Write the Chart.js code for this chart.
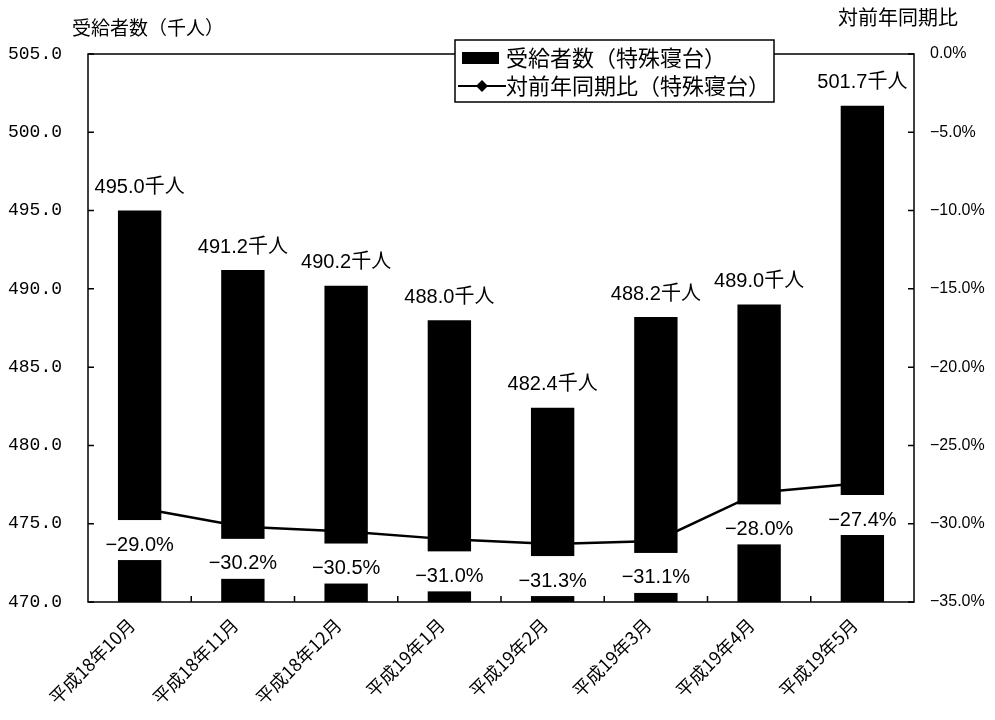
<!DOCTYPE html>
<html lang="ja">
<head>
<meta charset="utf-8">
<script src="https://cdn.jsdelivr.net/npm/chart.js@4.4.1/dist/chart.umd.min.js"></script>
<style>
  html, body { margin: 0; padding: 0; background: #fff; }
  #wrap { width: 995px; height: 720px; }
</style>
</head>
<body>
<div id="wrap"><canvas id="chart" width="995" height="720"></canvas></div>
<script>
const months = ['平成18年10月', '平成18年11月', '平成18年12月', '平成19年1月', '平成19年2月', '平成19年3月', '平成19年4月', '平成19年5月'];
const recipients = [495.0, 491.2, 490.2, 488.0, 482.4, 488.2, 489.0, 501.7];
const yoyRates = [-29.0, -30.2, -30.5, -31.0, -31.3, -31.1, -28.0, -27.4];
const leftTicks = [470, 475, 480, 485, 490, 495, 500, 505];
const rightTicks = [-35, -30, -25, -20, -15, -10, -5, 0];

const barName = '受給者数（特殊寝台）';
const lineName = '対前年同期比（特殊寝台）';
const leftTitle = '受給者数（千人）';
const rightTitle = '対前年同期比';

const jpFont = '"Noto Sans CJK JP", sans-serif';
const numFont = '"Liberation Sans", "Noto Sans CJK JP", sans-serif';

function fmtPct(v) {
    return v.toFixed(1).replace('-', '\u2212') + '%';
}

// white boxes with rate labels cutting through the bars
function drawRateLabels(chart) {
    const ctx = chart.ctx;
    const bars = chart.getDatasetMeta(0).data;
    const y1 = chart.scales.y1;
    ctx.save();
    ctx.font = '20px ' + numFont;
    ctx.textAlign = 'center';
    ctx.textBaseline = 'middle';
    yoyRates.forEach((r, i) => {
        const x = bars[i].x;
        const py = y1.getPixelForValue(r);
        const txt = fmtPct(r);
        const w = Math.max(ctx.measureText(txt).width, bars[i].width) + 4;
        ctx.fillStyle = '#fff';
        ctx.fillRect(x - w / 2, py + 12, w, 40);
        ctx.fillStyle = '#000';
        ctx.fillText(txt, x, py + 37);
    });
    ctx.restore();
}

const decor = {
    id: 'decor',
    afterDatasetDraw(chart, args) {
        if (args.index === 0) drawRateLabels(chart);
    },
    afterDraw(chart) {
        const ctx = chart.ctx;
        const a = chart.chartArea;
        const x = chart.scales.x;
        const y = chart.scales.y;
        const y1 = chart.scales.y1;
        ctx.save();

        // frame and inner tick marks
        ctx.strokeStyle = '#000';
        ctx.lineWidth = 1.5;
        ctx.strokeRect(a.left, a.top, a.right - a.left, a.bottom - a.top);
        ctx.beginPath();
        leftTicks.forEach(v => {
            const py = y.getPixelForValue(v);
            ctx.moveTo(a.left, py);
            ctx.lineTo(a.left + 6, py);
        });
        rightTicks.forEach(v => {
            const py = y1.getPixelForValue(v);
            ctx.moveTo(a.right, py);
            ctx.lineTo(a.right - 6, py);
        });
        const half = (x.getPixelForValue(1) - x.getPixelForValue(0)) / 2;
        for (let i = 1; i < months.length; i++) {
            const px = x.getPixelForValue(i) - half;
            ctx.moveTo(px, a.bottom);
            ctx.lineTo(px, a.bottom - 6);
        }
        ctx.stroke();

        // bar value labels
        const bars = chart.getDatasetMeta(0).data;
        ctx.fillStyle = '#000';
        ctx.font = '20px ' + numFont;
        ctx.textAlign = 'center';
        ctx.textBaseline = 'middle';
        recipients.forEach((v, i) => {
            ctx.fillText(v.toFixed(1) + '千人', bars[i].x, bars[i].y - 23);
        });

        // axis titles
        ctx.textAlign = 'left';
        ctx.font = '19px ' + jpFont;
        ctx.fillText(leftTitle, 72, 28);
        ctx.font = '20px ' + jpFont;
        ctx.fillText(rightTitle, 838, 17);

        // legend
        const lx = 455, ly = 40, lw = 319, lh = 62;
        ctx.fillStyle = '#fff';
        ctx.fillRect(lx, ly, lw, lh);
        ctx.lineWidth = 1.5;
        ctx.strokeRect(lx, ly, lw, lh);
        ctx.fillStyle = '#000';
        ctx.fillRect(462, 52, 37, 12);
        ctx.beginPath();
        ctx.moveTo(458, 86);
        ctx.lineTo(506, 86);
        ctx.lineWidth = 2;
        ctx.stroke();
        ctx.beginPath();
        ctx.moveTo(482, 80);
        ctx.lineTo(488, 86);
        ctx.lineTo(482, 92);
        ctx.lineTo(476, 86);
        ctx.closePath();
        ctx.fill();
        ctx.font = '22px ' + jpFont;
        ctx.fillText(barName, 506, 58);
        ctx.fillText(lineName, 506, 86);
        ctx.restore();
    }
};

new Chart(document.getElementById('chart'), {
    data: {
        labels: months,
        datasets: [{
            type: 'bar',
            label: barName,
            data: recipients,
            backgroundColor: '#000',
            barPercentage: 0.42,
            categoryPercentage: 1,
            yAxisID: 'y',
            order: 2
        }, {
            type: 'line',
            label: lineName,
            data: yoyRates,
            borderColor: '#000',
            backgroundColor: '#000',
            borderWidth: 2.5,
            pointStyle: 'rectRot',
            pointRadius: 5,
            tension: 0,
            yAxisID: 'y1',
            order: 1
        }]
    },
    options: {
        responsive: false,
        animation: false,
        layout: { padding: { top: 54, left: 0, right: 0, bottom: 0 } },
        plugins: {
            legend: { display: false },
            tooltip: { enabled: false }
        },
        scales: {
            x: {
                grid: { display: false },
                border: { display: false },
                ticks: {
                    color: '#000',
                    font: { family: jpFont, size: 18 },
                    minRotation: 45,
                    maxRotation: 45,
                    autoSkip: false,
                    padding: 4,
                    labelOffset: -8
                },
                afterFit: s => { s.height = 118; }
            },
            y: {
                position: 'left',
                min: 470,
                max: 505,
                grid: { display: false },
                border: { display: false },
                afterBuildTicks: s => { s.ticks = leftTicks.map(v => ({ value: v })); },
                ticks: {
                    color: '#000',
                    font: { family: '"Liberation Mono", monospace', size: 18 },
                    padding: 18,
                    callback: v => Number(v).toFixed(1)
                },
                afterFit: s => { s.width = 88; }
            },
            y1: {
                position: 'right',
                min: -35,
                max: 0,
                grid: { display: false },
                border: { display: false },
                afterBuildTicks: s => { s.ticks = rightTicks.map(v => ({ value: v })); },
                ticks: {
                    color: '#000',
                    font: { family: numFont, size: 16 },
                    padding: 8,
                    callback: v => fmtPct(Number(v))
                },
                afterFit: s => { s.width = 81; }
            }
        }
    },
    plugins: [decor]
});
</script>
</body>
</html>
